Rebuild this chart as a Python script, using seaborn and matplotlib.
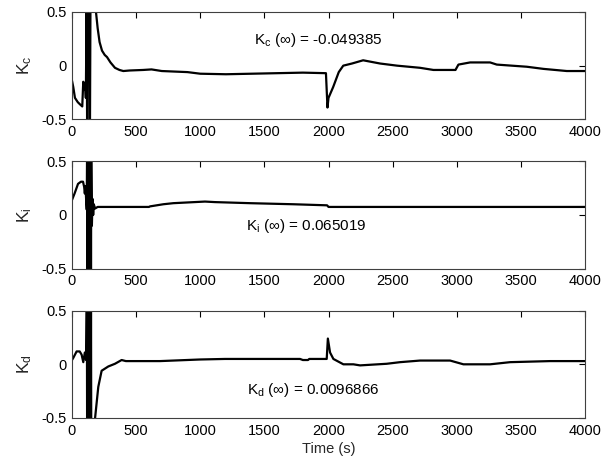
import matplotlib
matplotlib.use("Agg")
import matplotlib.pyplot as plt
import seaborn as sns
import pandas as pd

# ---- data ----
kc_t = [0, 10, 23, 45, 62, 80, 86, 88, 95, 102, 108, 114, 118, 122, 128, 132, 140, 145, 170,
        187, 200, 215, 234, 255, 273, 300, 335, 370, 400, 450, 555, 620, 700, 800, 900, 1000,
        1200, 1400, 1600, 1800, 1980, 1992, 2000, 2036, 2080, 2115, 2183, 2270, 2402, 2535,
        2714, 2818, 2990, 3013, 3104, 3260, 3312, 3546, 3676, 3858, 4000]
kc_v = [-0.14, -0.20, -0.30, -0.34, -0.36, -0.38, -0.20, -0.15, -0.22, -0.16, -0.30, 0.60, -0.60,
        0.60, 0.45, 0.70, -0.60, 0.90, 0.80, 0.50, 0.35, 0.22, 0.14, 0.10, 0.08, 0.03, -0.02,
        -0.04, -0.05, -0.045, -0.04, -0.035, -0.05, -0.055, -0.06, -0.075, -0.08, -0.075, -0.07,
        -0.065, -0.07, -0.39, -0.30, -0.20, -0.06, 0.0, 0.02, 0.05, 0.02, 0.0, -0.02, -0.04,
        -0.04, 0.01, 0.03, 0.03, 0.01, -0.01, -0.03, -0.05, -0.05]

ki_t = [0, 20, 47, 70, 86, 95, 100, 105, 110, 115, 118, 120, 122, 124, 126, 128, 130, 132, 134,
        136, 138, 140, 142, 144, 146, 148, 150, 155, 160, 165, 170, 180, 200, 600, 608, 712,
        790, 1037, 1115, 1388, 1726, 1989, 2000, 4000]
ki_v = [0.14, 0.20, 0.29, 0.31, 0.31, 0.26, 0.20, 0.27, 0.15, 0.05, 0.70, -0.70, 0.70, -0.70,
        0.70, -0.70, 0.70, -0.70, 0.70, -0.70, 0.70, -0.70, 0.70, -0.70, 0.70, -0.70, 0.50,
        -0.10, 0.15, 0.00, 0.10, 0.06, 0.075, 0.075, 0.08, 0.10, 0.11, 0.125, 0.12, 0.11, 0.10,
        0.09, 0.075, 0.075]

kd_t = [0, 10, 36, 60, 75, 88, 100, 110, 116, 118, 120, 122, 124, 126, 128, 130, 132, 134, 136,
        138, 140, 142, 144, 146, 148, 150, 160, 180, 205, 231, 283, 335, 387, 420, 686, 1000,
        1193, 1778, 1800, 1840, 1850, 1986, 1995, 2012, 2038, 2116, 2194, 2246, 2454, 2558,
        2714, 2948, 3052, 3260, 3416, 3728, 4000]
kd_v = [0.04, 0.06, 0.12, 0.12, 0.09, 0.02, 0.11, 0.04, 0.70, -0.70, 0.70, -0.70, 0.70, -0.70,
        0.70, -0.70, 0.70, -0.70, 0.70, -0.70, 0.70, -0.70, 0.70, -0.70, 0.70, -0.70, -0.70,
        -0.50, -0.21, -0.06, -0.02, 0.005, 0.04, 0.03, 0.03, 0.045, 0.05, 0.05, 0.04, 0.04,
        0.05, 0.05, 0.24, 0.11, 0.05, 0.0, 0.0, -0.01, 0.005, 0.02, 0.035, 0.035, 0.0, 0.0,
        0.02, 0.03, 0.03]

ylabels = ["K$_\\mathregular{c}$", "K$_\\mathregular{i}$", "K$_\\mathregular{d}$"]
notes = ["K$_\\mathregular{c}$ (\u221e) = -0.049385",
         "K$_\\mathregular{i}$ (\u221e) = 0.065019",
         "K$_\\mathregular{d}$ (\u221e) = 0.0096866"]
note_pos = [(1920, 0.235), (1830, -0.10), (1880, -0.24)]
xticks = [0, 500, 1000, 1500, 2000, 2500, 3000, 3500, 4000]
yticks = [-0.5, 0, 0.5]
ytick_labels = ["-0.5", "0", "0.5"]
xlabel = "Time (s)"

sns.set_theme(style="white")
plt.rcParams["font.family"] = ["Liberation Sans", "DejaVu Sans"]
plt.rcParams["mathtext.default"] = "regular"
plt.rcParams["font.size"] = 10

fig, axes = plt.subplots(3, 1, figsize=(6.01, 4.61), dpi=100)
fig.subplots_adjust(left=0.1198, right=0.9734, top=0.974, bottom=0.0933, hspace=0.391)

series = [(kc_t, kc_v), (ki_t, ki_v), (kd_t, kd_v)]
for ax, (t, v), yl, note, pos in zip(axes, series, ylabels, notes, note_pos):
    df = pd.DataFrame({"t": t, "v": v})
    sns.lineplot(data=df, x="t", y="v", ax=ax, color="black", linewidth=1.6,
                 estimator=None, sort=False)
    ax.set_xlim(0, 4000)
    ax.set_ylim(-0.5, 0.5)
    ax.set_xticks(xticks)
    ax.set_xticklabels([str(x) for x in xticks])
    ax.set_yticks(yticks)
    ax.set_yticklabels(ytick_labels)
    ax.tick_params(direction="in", length=4, width=0.8, top=True, right=True,
                   labelsize=10.5, colors="black", pad=4)
    ax.set_xlabel("")
    ax.set_ylabel(yl, fontsize=12.5, labelpad=5)
    for s in ax.spines.values():
        s.set_color("#404040")
        s.set_linewidth(0.8)
    ax.text(pos[0], pos[1], note, ha="center", va="center", fontsize=11, color="black")

axes[-1].set_xlabel(xlabel, fontsize=10.5, labelpad=3)

fig.savefig("out.png", dpi=100, facecolor="white")
